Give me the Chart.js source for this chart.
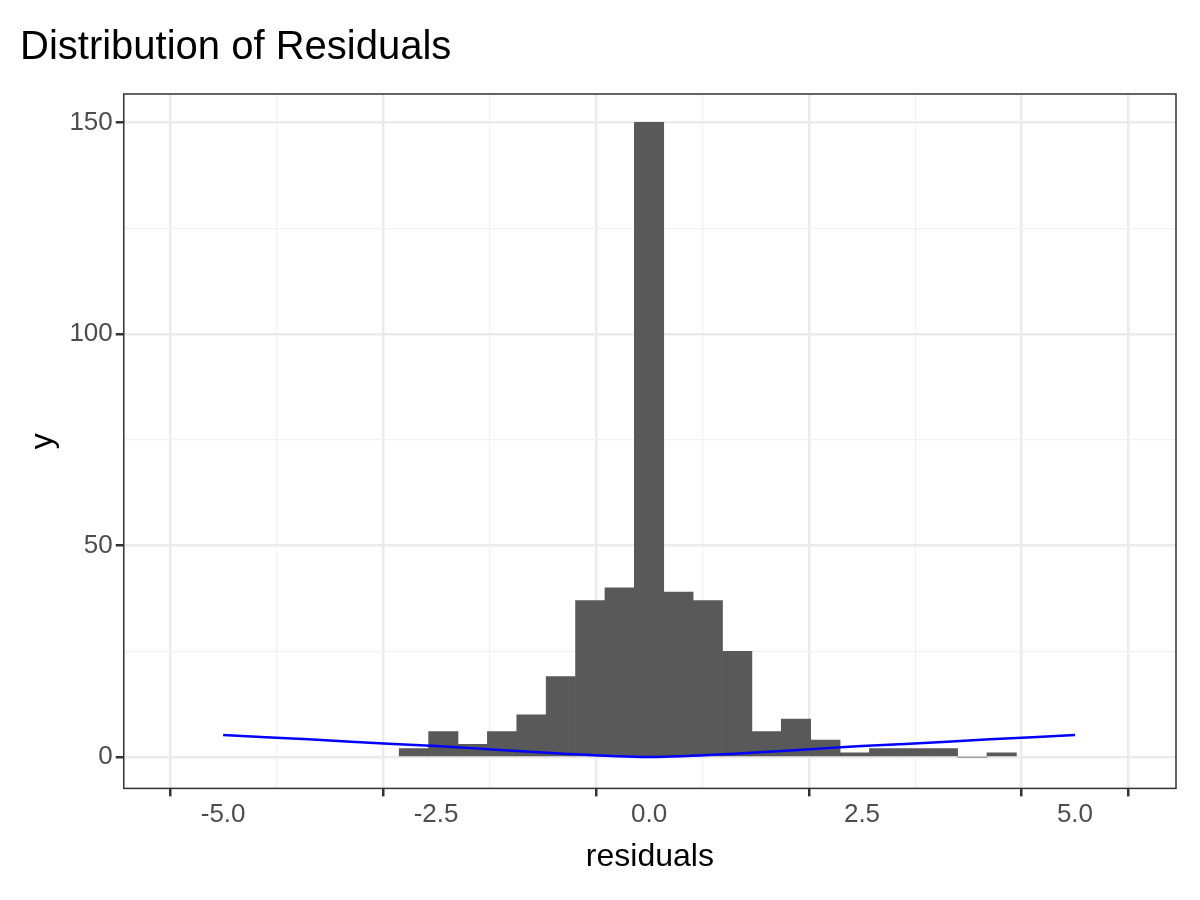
<!DOCTYPE html>
<html>
<head>
<meta charset="utf-8">
<script src="https://cdn.jsdelivr.net/npm/chart.js@4"></script>
<style>
  body { margin: 0; background: #fff; }
</style>
</head>
<body>
<canvas id="c" width="1200" height="900"></canvas>
<script>
// histogram bins (centers) and counts
const binCenters = [-2.76, -2.415, -2.07, -1.725, -1.38, -1.035, -0.69, -0.345, 0, 0.345, 0.69, 1.035, 1.38, 1.725, 2.07, 2.415, 2.76, 3.105, 3.45, 3.795, 4.14];
const counts = [2, 6, 3, 6, 10, 19, 37, 40, 150, 39, 37, 25, 6, 9, 4, 1, 2, 2, 2, 0, 1];
// blue reference line
const lineX = [-5, -4, -3, -2.5, -2, -1.5, -1, -0.5, 0, 0.5, 1, 1.5, 2, 2.5, 3, 4, 5];
const lineY = [5.2, 4.2, 3.1, 2.6, 2.0, 1.4, 0.8, 0.3, 0, 0.3, 0.8, 1.4, 2.0, 2.6, 3.1, 4.2, 5.2];
const xTicks = [-5, -3.75, -2.5, -1.25, 0, 1.25, 2.5, 3.75, 5];
const yTicks = [0, 25, 50, 75, 100, 125, 150];

const fontFam = "'Liberation Sans', Arial, sans-serif";

const isMajorX = v => Math.abs(v / 2.5 - Math.round(v / 2.5)) < 1e-6;
const isMajorY = v => v % 50 === 0;
const tv = c => (c.tick ? c.tick.value : 0);

const panelBorder = {
  id: "panelBorder",
  afterDraw(chart) {
    const a = chart.chartArea, ctx = chart.ctx;
    ctx.save();
    ctx.strokeStyle = "#333333";
    ctx.lineWidth = 1.5;
    ctx.strokeRect(a.left, a.top, a.right - a.left, a.bottom - a.top);
    ctx.restore();
  }
};

new Chart(document.getElementById("c"), {
  data: {
    datasets: [
      {
        type: "bar",
        data: binCenters.map((x, i) => ({ x: x, y: counts[i] })),
        backgroundColor: "#595959",
        barPercentage: 1,
        categoryPercentage: 1,
        order: 2
      },
      {
        type: "line",
        data: lineX.map((x, i) => ({ x: x, y: lineY[i] })),
        borderColor: "#0000ff",
        borderWidth: 2.5,
        pointRadius: 0,
        tension: 0.4,
        order: 1
      }
    ]
  },
  options: {
    responsive: false,
    animation: false,
    devicePixelRatio: 1,
    layout: { padding: { left: 20, right: 24, top: 10, bottom: 20 } },
    plugins: {
      legend: { display: false },
      tooltip: { enabled: false },
      title: {
        display: true,
        text: "Distribution of Residuals",
        align: "start",
        color: "#000",
        font: { family: fontFam, size: 40, weight: "normal" },
        padding: { top: 14, bottom: 22 }
      }
    },
    scales: {
      x: {
        type: "linear",
        min: -5.48,
        max: 5.5,
        afterBuildTicks: s => { s.ticks = xTicks.map(v => ({ value: v })); },
        ticks: {
          color: "#4d4d4d",
          font: { family: fontFam, size: 26 },
          callback: v => isMajorX(v) ? v.toFixed(1) : "",
          maxRotation: 0,
          autoSkip: false
        },
        grid: {
          color: c => isMajorX(tv(c)) ? "#ebebeb" : "#f2f2f2",
          lineWidth: c => isMajorX(tv(c)) ? 2.5 : 1.2,
          tickColor: c => isMajorX(tv(c)) ? "#333333" : "rgba(0,0,0,0)",
          tickLength: 8
        },
        border: { display: false },
        title: { display: true, text: "residuals", color: "#000", font: { family: fontFam, size: 32 }, padding: { top: 4 } }
      },
      y: {
        type: "linear",
        min: -7.4,
        max: 156.7,
        afterBuildTicks: s => { s.ticks = yTicks.map(v => ({ value: v })); },
        ticks: {
          color: "#4d4d4d",
          font: { family: fontFam, size: 26 },
          callback: v => isMajorY(v) ? String(v) : "",
          autoSkip: false
        },
        grid: {
          color: c => isMajorY(tv(c)) ? "#ebebeb" : "#f2f2f2",
          lineWidth: c => isMajorY(tv(c)) ? 2.5 : 1.2,
          tickColor: c => isMajorY(tv(c)) ? "#333333" : "rgba(0,0,0,0)",
          tickLength: 8
        },
        border: { display: false },
        title: { display: true, text: "y", color: "#000", font: { family: fontFam, size: 32 } }
      }
    }
  },
  plugins: [panelBorder]
});
</script>
</body>
</html>
